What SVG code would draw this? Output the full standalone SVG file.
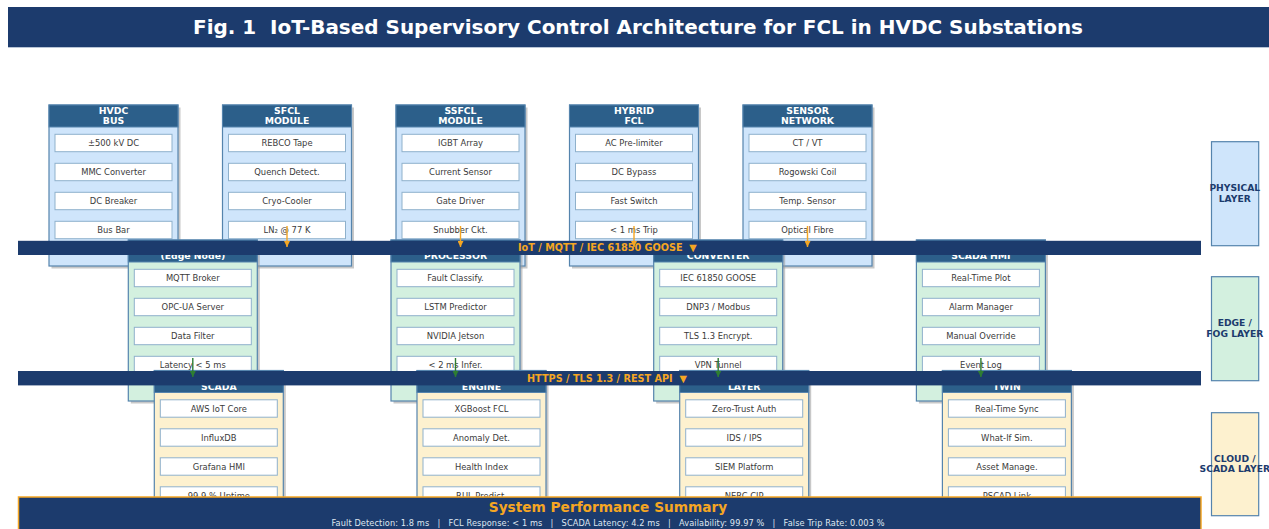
<svg xmlns="http://www.w3.org/2000/svg" width="1269" height="529" viewBox="0 0 1269 529">
<defs>
<style>
text{font-family:"DejaVu Sans","Liberation Sans",sans-serif;white-space:pre}
.shadow{fill:#9a9a9a;opacity:0.55}
.bp{fill:#cfe5fb;stroke:#5584ad;stroke-width:1.2}
.be{fill:#d3f0df;stroke:#5584ad;stroke-width:1.2}
.bc{fill:#fdf1cf;stroke:#5584ad;stroke-width:1.2}
.hdr{fill:#2c5f8a;stroke:#5584ad;stroke-width:1}
.ht{fill:#ffffff;font-size:9.3px;font-weight:bold;text-anchor:middle}
.item{fill:#ffffff;stroke:#8fb1cc;stroke-width:1}
.it{fill:#3a3a3a;font-size:8.4px;text-anchor:middle}
.bus{fill:#1c3b6d}
.busl{fill:#f5a623;font-size:9.7px;font-weight:bold}
.oa{stroke:#f5a623;stroke-width:1.4;fill:none}
.ga{stroke:#2e7d32;stroke-width:1.4;fill:none}
.lay{stroke:#5584ad;stroke-width:1.2}
.lt{fill:#1c3b6d;font-size:9.2px;font-weight:bold;text-anchor:middle}
</style>
<marker id="ao" viewBox="0 0 10 10" refX="10" refY="5" markerWidth="6" markerHeight="6" orient="auto" markerUnits="userSpaceOnUse"><path d="M0,0 L10,5 L0,10 z" fill="#f5a623"/></marker>
<marker id="ag" viewBox="0 0 10 10" refX="10" refY="5" markerWidth="6" markerHeight="6" orient="auto" markerUnits="userSpaceOnUse"><path d="M0,0 L10,5 L0,10 z" fill="#2e7d32"/></marker>
</defs>
<rect width="1269" height="529" fill="#ffffff"/>

<g id="title">
<rect x="8" y="8" width="1265" height="40" fill="#b8c4d6"/>
<rect x="8" y="7" width="1265" height="40" fill="#1c3b6d"/>
<text x="638" y="33.5" fill="#ffffff" font-size="19.5" font-weight="bold" text-anchor="middle" textLength="890" lengthAdjust="spacingAndGlyphs" xml:space="preserve">Fig. 1  IoT-Based Supervisory Control Architecture for FCL in HVDC Substations</text>
</g>

<!-- Physical layer nodes -->
<g id="n-hvdc-bus" transform="translate(49,105)">
<rect class="shadow" x="2.5" y="2.5" width="129" height="161"/><rect class="bp" width="129" height="161"/><rect class="hdr" width="129" height="22"/>
<text class="ht" x="64.5" y="8.7">HVDC</text><text class="ht" x="64.5" y="19.1">BUS</text>
<rect class="item" x="6" y="29.3" width="117" height="17.4"/><text class="it" x="64.5" y="41">±500 kV DC</text>
<rect class="item" x="6" y="58.3" width="117" height="17.4"/><text class="it" x="64.5" y="70">MMC Converter</text>
<rect class="item" x="6" y="87.3" width="117" height="17.4"/><text class="it" x="64.5" y="99">DC Breaker</text>
<rect class="item" x="6" y="116.3" width="117" height="17.4"/><text class="it" x="64.5" y="128">Bus Bar</text>
</g>
<g id="n-sfcl-module" transform="translate(222.5,105)">
<rect class="shadow" x="2.5" y="2.5" width="129" height="161"/><rect class="bp" width="129" height="161"/><rect class="hdr" width="129" height="22"/>
<text class="ht" x="64.5" y="8.7">SFCL</text><text class="ht" x="64.5" y="19.1">MODULE</text>
<rect class="item" x="6" y="29.3" width="117" height="17.4"/><text class="it" x="64.5" y="41">REBCO Tape</text>
<rect class="item" x="6" y="58.3" width="117" height="17.4"/><text class="it" x="64.5" y="70">Quench Detect.</text>
<rect class="item" x="6" y="87.3" width="117" height="17.4"/><text class="it" x="64.5" y="99">Cryo-Cooler</text>
<rect class="item" x="6" y="116.3" width="117" height="17.4"/><text class="it" x="64.5" y="128">LN₂ @ 77 K</text>
</g>
<g id="n-ssfcl-module" transform="translate(396,105)">
<rect class="shadow" x="2.5" y="2.5" width="129" height="161"/><rect class="bp" width="129" height="161"/><rect class="hdr" width="129" height="22"/>
<text class="ht" x="64.5" y="8.7">SSFCL</text><text class="ht" x="64.5" y="19.1">MODULE</text>
<rect class="item" x="6" y="29.3" width="117" height="17.4"/><text class="it" x="64.5" y="41">IGBT Array</text>
<rect class="item" x="6" y="58.3" width="117" height="17.4"/><text class="it" x="64.5" y="70">Current Sensor</text>
<rect class="item" x="6" y="87.3" width="117" height="17.4"/><text class="it" x="64.5" y="99">Gate Driver</text>
<rect class="item" x="6" y="116.3" width="117" height="17.4"/><text class="it" x="64.5" y="128">Snubber Ckt.</text>
</g>
<g id="n-hybrid-fcl" transform="translate(569.5,105)">
<rect class="shadow" x="2.5" y="2.5" width="129" height="161"/><rect class="bp" width="129" height="161"/><rect class="hdr" width="129" height="22"/>
<text class="ht" x="64.5" y="8.7">HYBRID</text><text class="ht" x="64.5" y="19.1">FCL</text>
<rect class="item" x="6" y="29.3" width="117" height="17.4"/><text class="it" x="64.5" y="41">AC Pre-limiter</text>
<rect class="item" x="6" y="58.3" width="117" height="17.4"/><text class="it" x="64.5" y="70">DC Bypass</text>
<rect class="item" x="6" y="87.3" width="117" height="17.4"/><text class="it" x="64.5" y="99">Fast Switch</text>
<rect class="item" x="6" y="116.3" width="117" height="17.4"/><text class="it" x="64.5" y="128">&lt; 1 ms Trip</text>
</g>
<g id="n-sensor-network" transform="translate(743,105)">
<rect class="shadow" x="2.5" y="2.5" width="129" height="161"/><rect class="bp" width="129" height="161"/><rect class="hdr" width="129" height="22"/>
<text class="ht" x="64.5" y="8.7">SENSOR</text><text class="ht" x="64.5" y="19.1">NETWORK</text>
<rect class="item" x="6" y="29.3" width="117" height="17.4"/><text class="it" x="64.5" y="41">CT / VT</text>
<rect class="item" x="6" y="58.3" width="117" height="17.4"/><text class="it" x="64.5" y="70">Rogowski Coil</text>
<rect class="item" x="6" y="87.3" width="117" height="17.4"/><text class="it" x="64.5" y="99">Temp. Sensor</text>
<rect class="item" x="6" y="116.3" width="117" height="17.4"/><text class="it" x="64.5" y="128">Optical Fibre</text>
</g>

<!-- Edge / Fog layer nodes -->
<g id="n-edge-node" transform="translate(128.3,240)">
<rect class="shadow" x="2.5" y="2.5" width="129" height="161"/><rect class="be" width="129" height="161"/><rect class="hdr" width="129" height="22"/>
<text class="ht" x="64.5" y="19.3">(Edge Node)</text>
<rect class="item" x="6" y="29.3" width="117" height="17.4"/><text class="it" x="64.5" y="41">MQTT Broker</text>
<rect class="item" x="6" y="58.3" width="117" height="17.4"/><text class="it" x="64.5" y="70">OPC-UA Server</text>
<rect class="item" x="6" y="87.3" width="117" height="17.4"/><text class="it" x="64.5" y="99">Data Filter</text>
<rect class="item" x="6" y="116.3" width="117" height="17.4"/><text class="it" x="64.5" y="128">Latency &lt; 5 ms</text>
</g>
<g id="n-processor" transform="translate(391,240)">
<rect class="shadow" x="2.5" y="2.5" width="129" height="161"/><rect class="be" width="129" height="161"/><rect class="hdr" width="129" height="22"/>
<text class="ht" x="64.5" y="19.3">PROCESSOR</text>
<rect class="item" x="6" y="29.3" width="117" height="17.4"/><text class="it" x="64.5" y="41">Fault Classify.</text>
<rect class="item" x="6" y="58.3" width="117" height="17.4"/><text class="it" x="64.5" y="70">LSTM Predictor</text>
<rect class="item" x="6" y="87.3" width="117" height="17.4"/><text class="it" x="64.5" y="99">NVIDIA Jetson</text>
<rect class="item" x="6" y="116.3" width="117" height="17.4"/><text class="it" x="64.5" y="128">&lt; 2 ms Infer.</text>
</g>
<g id="n-converter" transform="translate(653.7,240)">
<rect class="shadow" x="2.5" y="2.5" width="129" height="161"/><rect class="be" width="129" height="161"/><rect class="hdr" width="129" height="22"/>
<text class="ht" x="64.5" y="19.3">CONVERTER</text>
<rect class="item" x="6" y="29.3" width="117" height="17.4"/><text class="it" x="64.5" y="41">IEC 61850 GOOSE</text>
<rect class="item" x="6" y="58.3" width="117" height="17.4"/><text class="it" x="64.5" y="70">DNP3 / Modbus</text>
<rect class="item" x="6" y="87.3" width="117" height="17.4"/><text class="it" x="64.5" y="99">TLS 1.3 Encrypt.</text>
<rect class="item" x="6" y="116.3" width="117" height="17.4"/><text class="it" x="64.5" y="128">VPN Tunnel</text>
</g>
<g id="n-scada-hmi" transform="translate(916.4,240)">
<rect class="shadow" x="2.5" y="2.5" width="129" height="161"/><rect class="be" width="129" height="161"/><rect class="hdr" width="129" height="22"/>
<text class="ht" x="64.5" y="19.3">SCADA HMI</text>
<rect class="item" x="6" y="29.3" width="117" height="17.4"/><text class="it" x="64.5" y="41">Real-Time Plot</text>
<rect class="item" x="6" y="58.3" width="117" height="17.4"/><text class="it" x="64.5" y="70">Alarm Manager</text>
<rect class="item" x="6" y="87.3" width="117" height="17.4"/><text class="it" x="64.5" y="99">Manual Override</text>
<rect class="item" x="6" y="116.3" width="117" height="17.4"/><text class="it" x="64.5" y="128">Event Log</text>
</g>

<g id="bus-iot">
<rect class="bus" x="18" y="240.8" width="1183" height="14.2"/>
<text class="busl" x="518" y="251.3" xml:space="preserve">IoT / MQTT / IEC 61850 GOOSE  ▼</text>
</g>

<!-- Cloud / SCADA layer nodes -->
<g id="n-scada" transform="translate(154.3,370.5)">
<rect class="shadow" x="2.5" y="2.5" width="129" height="161"/><rect class="bc" width="129" height="161"/><rect class="hdr" width="129" height="22"/>
<text class="ht" x="64.5" y="19.3">SCADA</text>
<rect class="item" x="6" y="29.3" width="117" height="17.4"/><text class="it" x="64.5" y="41">AWS IoT Core</text>
<rect class="item" x="6" y="58.3" width="117" height="17.4"/><text class="it" x="64.5" y="70">InfluxDB</text>
<rect class="item" x="6" y="87.3" width="117" height="17.4"/><text class="it" x="64.5" y="99">Grafana HMI</text>
<rect class="item" x="6" y="116.3" width="117" height="17.4"/><text class="it" x="64.5" y="128">99.9 % Uptime</text>
</g>
<g id="n-engine" transform="translate(417,370.5)">
<rect class="shadow" x="2.5" y="2.5" width="129" height="161"/><rect class="bc" width="129" height="161"/><rect class="hdr" width="129" height="22"/>
<text class="ht" x="64.5" y="19.3">ENGINE</text>
<rect class="item" x="6" y="29.3" width="117" height="17.4"/><text class="it" x="64.5" y="41">XGBoost FCL</text>
<rect class="item" x="6" y="58.3" width="117" height="17.4"/><text class="it" x="64.5" y="70">Anomaly Det.</text>
<rect class="item" x="6" y="87.3" width="117" height="17.4"/><text class="it" x="64.5" y="99">Health Index</text>
<rect class="item" x="6" y="116.3" width="117" height="17.4"/><text class="it" x="64.5" y="128">RUL Predict.</text>
</g>
<g id="n-layer" transform="translate(679.7,370.5)">
<rect class="shadow" x="2.5" y="2.5" width="129" height="161"/><rect class="bc" width="129" height="161"/><rect class="hdr" width="129" height="22"/>
<text class="ht" x="64.5" y="19.3">LAYER</text>
<rect class="item" x="6" y="29.3" width="117" height="17.4"/><text class="it" x="64.5" y="41">Zero-Trust Auth</text>
<rect class="item" x="6" y="58.3" width="117" height="17.4"/><text class="it" x="64.5" y="70">IDS / IPS</text>
<rect class="item" x="6" y="87.3" width="117" height="17.4"/><text class="it" x="64.5" y="99">SIEM Platform</text>
<rect class="item" x="6" y="116.3" width="117" height="17.4"/><text class="it" x="64.5" y="128">NERC CIP</text>
</g>
<g id="n-twin" transform="translate(942.4,370.5)">
<rect class="shadow" x="2.5" y="2.5" width="129" height="161"/><rect class="bc" width="129" height="161"/><rect class="hdr" width="129" height="22"/>
<text class="ht" x="64.5" y="19.3">TWIN</text>
<rect class="item" x="6" y="29.3" width="117" height="17.4"/><text class="it" x="64.5" y="41">Real-Time Sync</text>
<rect class="item" x="6" y="58.3" width="117" height="17.4"/><text class="it" x="64.5" y="70">What-If Sim.</text>
<rect class="item" x="6" y="87.3" width="117" height="17.4"/><text class="it" x="64.5" y="99">Asset Manage.</text>
<rect class="item" x="6" y="116.3" width="117" height="17.4"/><text class="it" x="64.5" y="128">PSCAD Link</text>
</g>

<g id="bus-https">
<rect class="bus" x="18" y="371" width="1183" height="14.4"/>
<text class="busl" x="527" y="381.6" xml:space="preserve">HTTPS / TLS 1.3 / REST API  ▼</text>
</g>

<g id="summary">
<rect x="18.5" y="497" width="1182.5" height="45" fill="#1c3b6d" stroke="#f5a623" stroke-width="1.5"/>
<text x="608" y="512" fill="#f5a623" font-size="13.7" font-weight="bold" text-anchor="middle">System Performance Summary</text>
<text x="608" y="526" fill="#dfe6f0" font-size="8.2" text-anchor="middle" textLength="553" lengthAdjust="spacing" xml:space="preserve">Fault Detection: 1.8 ms   |   FCL Response: &lt; 1 ms   |   SCADA Latency: 4.2 ms   |   Availability: 99.97 %   |   False Trip Rate: 0.003 %</text>
</g>

<g id="connectors">
<line class="oa" x1="287" y1="226" x2="287" y2="247" marker-end="url(#ao)"/>
<line class="oa" x1="460.5" y1="226" x2="460.5" y2="247" marker-end="url(#ao)"/>
<line class="oa" x1="634" y1="226" x2="634" y2="247" marker-end="url(#ao)"/>
<line class="oa" x1="807.5" y1="226" x2="807.5" y2="247" marker-end="url(#ao)"/>
<line class="ga" x1="192.8" y1="358" x2="192.8" y2="377" marker-end="url(#ag)"/>
<line class="ga" x1="455.5" y1="358" x2="455.5" y2="377" marker-end="url(#ag)"/>
<line class="ga" x1="718.2" y1="358" x2="718.2" y2="377" marker-end="url(#ag)"/>
<line class="ga" x1="980.9" y1="358" x2="980.9" y2="377" marker-end="url(#ag)"/>
</g>

<g id="layer-physical">
<rect class="lay" x="1211.5" y="141.7" width="47.2" height="104" fill="#cfe5fb"/>
<text class="lt" x="1234.8" y="190.6">PHYSICAL</text><text class="lt" x="1234.8" y="201.6">LAYER</text>
</g>
<g id="layer-edge">
<rect class="lay" x="1211.5" y="276.7" width="47.2" height="104" fill="#d3f0df"/>
<text class="lt" x="1234.8" y="326">EDGE /</text><text class="lt" x="1234.8" y="337">FOG LAYER</text>
</g>
<g id="layer-cloud">
<rect class="lay" x="1211.5" y="412.7" width="47.2" height="103" fill="#fdf1cf"/>
<text class="lt" x="1234.8" y="461.6">CLOUD /</text><text class="lt" x="1234.8" y="472.3">SCADA LAYER</text>
</g>
</svg>
